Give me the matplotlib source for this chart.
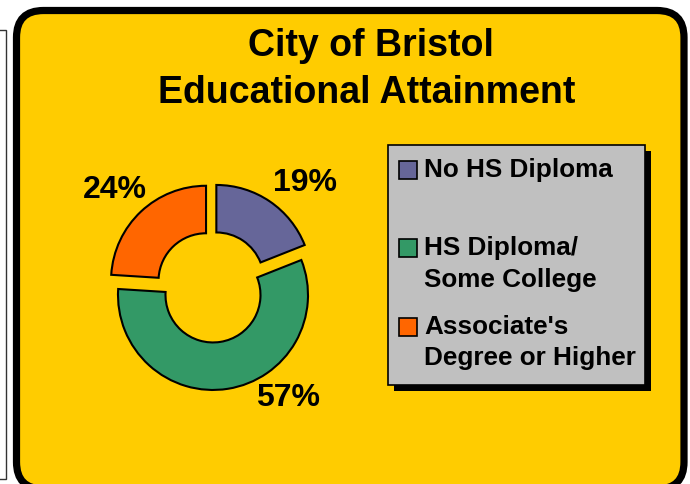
import matplotlib.pyplot as plt
from matplotlib.patches import FancyBboxPatch, Rectangle

plt.rcParams['font.family'] = ['Liberation Sans', 'DejaVu Sans']

categories = ['No HS Diploma', 'HS Diploma/\nSome College', "Associate's\nDegree or Higher"]
shares = [19, 57, 24]
pct_labels = ['19%', '57%', '24%']
colors = ['#666699', '#339966', '#FF6600']

W, H = 690, 484
fig = plt.figure(figsize=(W / 100, H / 100), dpi=100)
fig.patch.set_facecolor('white')

# background axes in pixel units (y down)
bg = fig.add_axes([0, 0, 1, 1])
bg.set_xlim(0, W)
bg.set_ylim(H, 0)
bg.axis('off')

# edge of neighbouring panel on the left
bg.add_patch(Rectangle((-20, 30), 25.5, 449, facecolor='white', edgecolor='#333333', lw=1))

# main rounded panel
panel = FancyBboxPatch((16.5, 10.5), 667.5, 478.5, boxstyle='round,pad=0,rounding_size=27',
                       facecolor='#FFCC00', edgecolor='black', lw=5.2)
bg.add_patch(panel)

# title
bg.text(371, 56.5, 'City of Bristol', ha='center', va='baseline', fontsize=27, fontweight='bold')
bg.text(366.5, 103, 'Educational Attainment', ha='center', va='baseline', fontsize=27, fontweight='bold')

# pie
cx, cy, R, half = 211.7, 286.8, 95.0, 130.0
pie_ax = fig.add_axes([(cx - half) / W, (H - cy - half) / H, 2 * half / W, 2 * half / H])
pie_ax.pie(shares, colors=colors, startangle=90, counterclock=False,
           explode=[0.087] * len(shares),
           wedgeprops=dict(width=0.5, edgecolor='black', linewidth=1.5))
pie_ax.set_xlim(-half / R, half / R)
pie_ax.set_ylim(-half / R, half / R)
pie_ax.set_aspect('equal')
pie_ax.axis('off')

# percentage labels
label_pos = [(305, 183), (288, 398), (114.5, 190.5)]
for txt, (x, y) in zip(pct_labels, label_pos):
    bg.text(x, y, txt, ha='center', va='center', fontsize=23, fontweight='bold', zorder=5)

# legend box with shadow
bg.add_patch(Rectangle((394, 151), 257, 240, facecolor='black', edgecolor='none', zorder=3))
bg.add_patch(Rectangle((388, 145), 257, 240, facecolor='#C0C0C0', edgecolor='black', lw=1.2, zorder=4))
entry_y = [170, 248, 327]
line_gap = 31.5
for cat, col, y in zip(categories, colors, entry_y):
    bg.add_patch(Rectangle((399, y - 9), 18, 18, facecolor=col, edgecolor='black', lw=1.2, zorder=5))
    for i, line in enumerate(cat.split('\n')):
        bg.text(424, y + i * line_gap, line, ha='left', va='center', fontsize=18.8,
                fontweight='bold', zorder=5)

fig.savefig('out.png', dpi=100)
